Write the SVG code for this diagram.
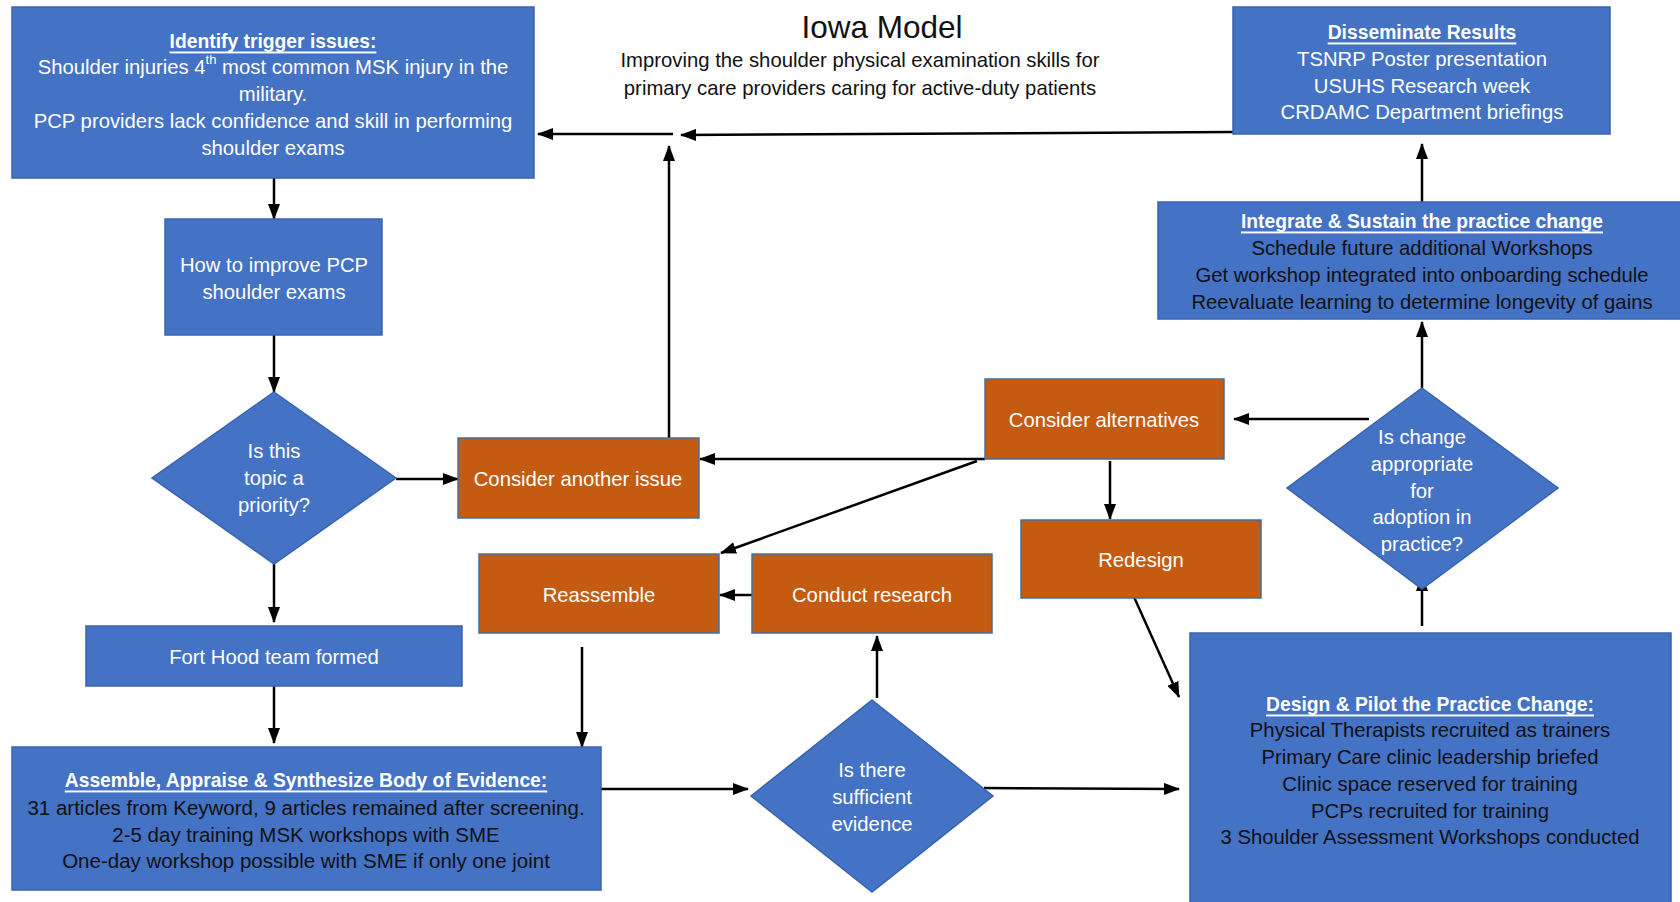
<svg xmlns="http://www.w3.org/2000/svg" width="1680" height="902" viewBox="0 0 1680 902">
<style>
.blue{fill:#4472C4;stroke:#3A64B0;stroke-width:1.5}
.orange{fill:#C55A11;stroke:#41719C;stroke-width:1.5}
text{font-family:"Liberation Sans",Arial,sans-serif;font-size:20.3px;text-anchor:middle;dominant-baseline:central}
.w{fill:#ffffff}
.k{fill:#111111}
.t{font-weight:bold;text-decoration:underline;fill:#ffffff;font-size:19.3px}
.c{stroke:#000;stroke-width:2.5;fill:none;marker-end:url(#ah)}
</style>
<defs>
<marker id="ah" markerUnits="userSpaceOnUse" markerWidth="16" markerHeight="12" refX="15" refY="6" orient="auto">
<path d="M0,0 L16,6 L0,12 z" fill="#000"/>
</marker>
</defs>
<rect width="1680" height="902" fill="#ffffff"/>

<g id="title">
<text x="882" y="27" style="font-size:31.5px" class="k">Iowa Model</text>
<text x="860" y="60" style="font-size:20.3px" class="k">Improving the shoulder physical examination skills for</text>
<text x="860" y="88" style="font-size:20.3px" class="k">primary care providers caring for active-duty patients</text>
</g>

<g id="connectors">
<line class="c" x1="1233" y1="132" x2="681" y2="135"/>
<line class="c" x1="673" y1="134" x2="538" y2="134"/>
<line class="c" x1="669" y1="438" x2="669" y2="146"/>
<line class="c" x1="274" y1="178" x2="274" y2="219"/>
<line class="c" x1="274" y1="335" x2="274" y2="392"/>
<line class="c" x1="396" y1="479" x2="458" y2="479"/>
<line class="c" x1="274" y1="564" x2="274" y2="622"/>
<line class="c" x1="274" y1="686" x2="274" y2="743"/>
<line class="c" x1="601" y1="789" x2="748" y2="789"/>
<line class="c" x1="877" y1="698" x2="877" y2="636"/>
<line class="c" x1="752" y1="595" x2="720" y2="595"/>
<line class="c" x1="582" y1="647" x2="582" y2="747"/>
<line class="c" x1="984" y1="788" x2="1179" y2="789"/>
<line class="c" x1="1422" y1="626" x2="1422" y2="576"/>
<line class="c" x1="1422" y1="388" x2="1422" y2="322"/>
<line class="c" x1="1422" y1="202" x2="1422" y2="144"/>
<line class="c" x1="1369" y1="419" x2="1234" y2="419"/>
<line class="c" x1="985" y1="459" x2="700" y2="459"/>
<line class="c" x1="977" y1="461" x2="721" y2="553"/>
<line class="c" x1="1110" y1="461" x2="1110" y2="519"/>
<line class="c" x1="1134" y1="597" x2="1179" y2="697"/>
</g>

<g id="identify">
<rect class="blue" x="12" y="7" width="522" height="171"/>
<text x="273" y="41" class="t">Identify trigger issues:</text>
<text x="273" y="67" class="w">Shoulder injuries 4<tspan style="font-size:13px" baseline-shift="super">th</tspan> most common MSK injury in the</text>
<text x="273" y="94" class="w">military.</text>
<text x="273" y="121" class="w">PCP providers lack confidence and skill in performing</text>
<text x="273" y="148" class="w">shoulder exams</text>
</g>

<g id="disseminate">
<rect class="blue" x="1233" y="7" width="377" height="127"/>
<text x="1422" y="32" class="t">Disseminate Results</text>
<text x="1422" y="59" class="w">TSNRP Poster presentation</text>
<text x="1422" y="86" class="w">USUHS Research week</text>
<text x="1422" y="112" class="w">CRDAMC Department briefings</text>
</g>

<g id="integrate">
<rect class="blue" x="1158" y="202" width="525" height="117"/>
<text x="1422" y="221" class="t">Integrate &amp; Sustain the practice change</text>
<text x="1422" y="248" class="k">Schedule future additional Workshops</text>
<text x="1422" y="275" class="k">Get workshop integrated into onboarding schedule</text>
<text x="1422" y="302" class="k">Reevaluate learning to determine longevity of gains</text>
</g>

<g id="improve">
<rect class="blue" x="165" y="219" width="217" height="116"/>
<text x="274" y="265" class="w">How to improve PCP</text>
<text x="274" y="292" class="w">shoulder exams</text>
</g>

<g id="priority">
<polygon class="blue" points="274,392 396,478 274,564 152,478"/>
<text x="274" y="451" class="w">Is this</text>
<text x="274" y="478" class="w">topic a</text>
<text x="274" y="505" class="w">priority?</text>
</g>

<g id="another">
<rect class="orange" x="458" y="438" width="241" height="80"/>
<text x="578" y="479" class="w">Consider another issue</text>
</g>

<g id="alternatives">
<rect class="orange" x="985" y="379" width="239" height="80"/>
<text x="1104" y="420" class="w">Consider alternatives</text>
</g>

<g id="adoption">
<polygon class="blue" points="1422,388 1558,488 1422,589 1287,488"/>
<text x="1422" y="437" class="w">Is change</text>
<text x="1422" y="464" class="w">appropriate</text>
<text x="1422" y="491" class="w">for</text>
<text x="1422" y="517" class="w">adoption in</text>
<text x="1422" y="544" class="w">practice?</text>
</g>

<g id="reassemble">
<rect class="orange" x="479" y="554" width="240" height="79"/>
<text x="599" y="595" class="w">Reassemble</text>
</g>

<g id="research">
<rect class="orange" x="752" y="554" width="240" height="79"/>
<text x="872" y="595" class="w">Conduct research</text>
</g>

<g id="redesign">
<rect class="orange" x="1021" y="520" width="240" height="78"/>
<text x="1141" y="560" class="w">Redesign</text>
</g>

<g id="forthood">
<rect class="blue" x="86" y="626" width="376" height="60"/>
<text x="274" y="657" class="w">Fort Hood team formed</text>
</g>

<g id="assemble">
<rect class="blue" x="12" y="747" width="589" height="143"/>
<text x="306" y="780" class="t">Assemble, Appraise &amp; Synthesize Body of Evidence:</text>
<text x="306" y="807" class="k" style="font-size:20.5px">31 articles from Keyword, 9 articles remained after screening.</text>
<text x="306" y="834" class="k" style="font-size:20.5px">2-5 day training MSK workshops with SME</text>
<text x="306" y="860" class="k" style="font-size:20.5px">One-day workshop possible with SME if only one joint</text>
</g>

<g id="evidence">
<polygon class="blue" points="872,700 993,796 872,892 751,796"/>
<text x="872" y="770" class="w">Is there</text>
<text x="872" y="797" class="w">sufficient</text>
<text x="872" y="824" class="w">evidence</text>
</g>

<g id="design">
<rect class="blue" x="1190" y="633" width="481" height="280"/>
<text x="1430" y="704" class="t">Design &amp; Pilot the Practice Change:</text>
<text x="1430" y="730" class="k">Physical Therapists recruited as trainers</text>
<text x="1430" y="757" class="k">Primary Care clinic leadership briefed</text>
<text x="1430" y="784" class="k">Clinic space reserved for training</text>
<text x="1430" y="811" class="k">PCPs recruited for training</text>
<text x="1430" y="837" class="k">3 Shoulder Assessment Workshops conducted</text>
</g>
</svg>
